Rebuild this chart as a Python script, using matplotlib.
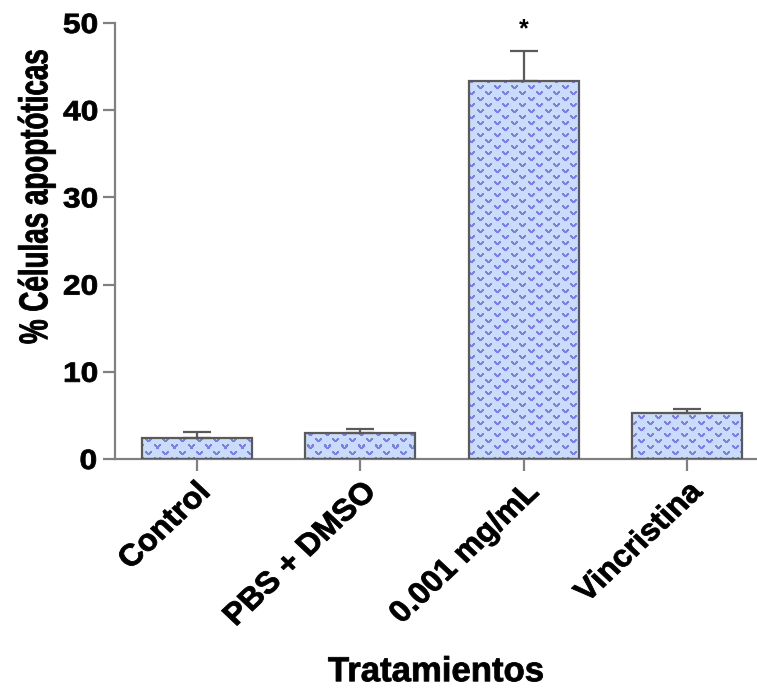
import numpy as np
import matplotlib
matplotlib.use('Agg')
import matplotlib.pyplot as plt
from matplotlib.patheffects import AbstractPathEffect
from matplotlib.transforms import Affine2D, ScaledTranslation

# Porcentaje de células apoptóticas por tratamiento (media y error estándar)
tratamientos = ['Control', 'PBS + DMSO', '0.001 mg/mL', 'Vincristina']
media = [2.45, 3.02, 43.3, 5.25]
sem = [0.65, 0.40, 3.45, 0.45]
significativo = [False, False, True, False]

yticks = [0, 10, 20, 30, 40, 50]

plt.rcParams['font.family'] = ['Liberation Sans', 'DejaVu Sans']
plt.rcParams['font.weight'] = 'bold'

FILL = '#c9dcf9'
MOTIF = '#7d7def'
EDGE = '#5a5a5a'
AXIS = '#808080'


class StretchX(AbstractPathEffect):
    """Ensancha el texto en horizontal alrededor de su centro y engrosa el trazo"""

    def __init__(self, sx, stroke=0.6):
        super().__init__()
        self.sx = sx
        self.stroke = stroke

    def draw_path(self, renderer, gc, tpath, affine, rgbFace=None):
        ext = tpath.get_extents(affine)
        cx = 0.5 * (ext.x0 + ext.x1)
        affine = affine + Affine2D().translate(-cx, 0).scale(self.sx, 1).translate(cx, 0)
        gc0 = renderer.new_gc()
        gc0.copy_properties(gc)
        if self.stroke and rgbFace is not None:
            gc0.set_linewidth(self.stroke)
            gc0.set_foreground(rgbFace)
        renderer.draw_path(gc0, tpath, affine, rgbFace)
        gc0.restore()


def motif_tile():
    """Baldosa con la trama de 'v' (dos filas desplazadas)"""
    v = np.array([[1, 1, 0, 0, 0, 1, 1],
                  [1, 1, 1, 0, 1, 1, 1],
                  [0, 1, 1, 1, 1, 1, 0],
                  [0, 0, 1, 1, 1, 0, 0]], dtype=bool)
    tile = np.zeros((12, 17), dtype=bool)
    tile[1:5, 1:8] = v
    tile[7:11, 9:16] = v
    return tile


fig = plt.figure(figsize=(7.57, 6.92), dpi=100)
W, H = 757, 692
ax = fig.add_axes([115 / W, 1 - 459 / H, 642 / W, 436 / H])

x = np.arange(len(tratamientos))
width = 0.67
ax.set_xlim(-0.5, -0.5 + 642 / 163.5)
ax.set_ylim(0, 50)

# Barras: contorno gris y relleno con textura
bars = ax.bar(x, media, width=width, facecolor='none', edgecolor=EDGE,
              linewidth=1.6, zorder=3)

tile = motif_tile()
fig.canvas.draw()
for b in bars:
    x0, y0 = b.get_x(), 0
    x1, y1 = b.get_x() + b.get_width(), b.get_height()
    (px0, py0), (px1, py1) = ax.transData.transform([(x0, y0), (x1, y1)])
    c0, c1 = int(round(px0)), int(round(px1))
    r0, r1 = int(round(H - py1)), int(round(H - py0))
    rows = (np.arange(r0, r1) % tile.shape[0])[:, None]
    cols = (np.arange(c0, c1) % tile.shape[1])[None, :]
    mask = tile[rows, cols]
    img = np.empty(mask.shape + (3,))
    img[:] = matplotlib.colors.to_rgb(FILL)
    img[mask] = matplotlib.colors.to_rgb(MOTIF)
    ax.imshow(img, extent=(x0, x1, y0, y1), aspect='auto',
              interpolation='nearest', zorder=2)

# Solo la mitad superior del error
ax.errorbar(x, media, yerr=[np.zeros(len(sem)), sem], fmt='none',
            ecolor=EDGE, elinewidth=1.6, capsize=10, capthick=1.6, zorder=4)

for xi, m, s, sig in zip(x, media, sem, significativo):
    if sig:
        ax.text(xi, m + s + 2.5, '*', ha='center', va='center',
                fontsize=18, fontweight='bold')

for side in ['top', 'right']:
    ax.spines[side].set_visible(False)
for side in ['left', 'bottom']:
    ax.spines[side].set_color(AXIS)
    ax.spines[side].set_linewidth(1.6)

ax.set_yticks(yticks)
ax.set_xticks(x)
ax.set_xticklabels(tratamientos, rotation=45, ha='right',
                   rotation_mode='anchor')
ax.tick_params(axis='both', length=8.6, width=1.6, color=AXIS,
               direction='out')
ax.tick_params(axis='y', pad=5, labelsize=20)
ax.tick_params(axis='x', pad=6, labelsize=22)

for lab in ax.get_yticklabels():
    lab.set_path_effects([StretchX(1.14)])
shift = ScaledTranslation(-4 / 100, 2 / 100, fig.dpi_scale_trans)
for lab in ax.get_xticklabels():
    lab.set_transform(lab.get_transform() + shift)
    lab.set_path_effects([StretchX(1.06)])

ax.set_ylabel('% Células apoptóticas', fontsize=20, fontweight='bold',
              path_effects=[StretchX(1.45)])
ax.yaxis.set_label_coords(-0.1012, 0.601)
ax.set_xlabel('Tratamientos', fontsize=25, fontweight='bold', va='top',
              path_effects=[StretchX(1.0)])
ax.xaxis.set_label_coords(0.5, -0.45)

fig.savefig('out.png', dpi=100)
